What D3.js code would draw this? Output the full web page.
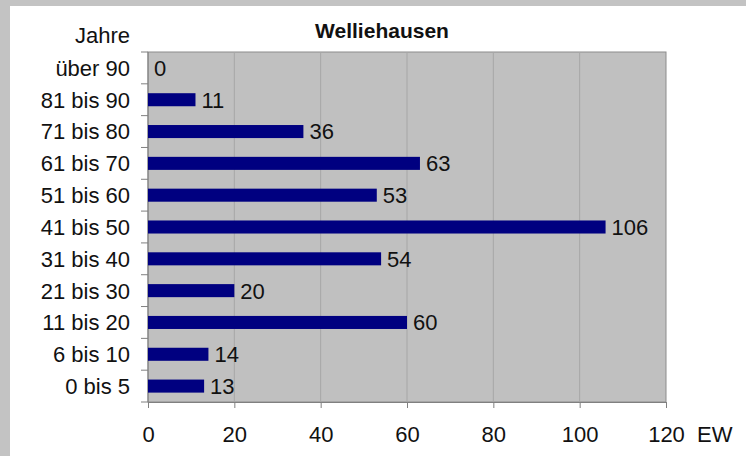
<!DOCTYPE html>
<html>
<head>
<meta charset="utf-8">
<script src="https://cdn.jsdelivr.net/npm/d3@7"></script>
<style>
  body { margin: 0; background: #fff; }
  text { font-family: "Liberation Sans", Arial, sans-serif; fill: #111; }
</style>
</head>
<body>
<script>
// Age groups, top to bottom
var categories = ["über 90", "81 bis 90", "71 bis 80", "61 bis 70", "51 bis 60",
                  "41 bis 50", "31 bis 40", "21 bis 30", "11 bis 20", "6 bis 10", "0 bis 5"];
// Residents (EW) per age group
var values = [0, 11, 36, 63, 53, 106, 54, 20, 60, 14, 13];
var xTicks = [0, 20, 40, 60, 80, 100, 120];

var W = 746, H = 456;
var plot = {left: 148, top: 52, right: 666, bottom: 402};

var svg = d3.select("body").append("svg")
    .attr("width", W)
    .attr("height", H);

// gray frame along top and left edge
svg.append("rect").attr("x", 0).attr("y", 0).attr("width", W).attr("height", 6).attr("fill", "#c3c3c3");
svg.append("rect").attr("x", 0).attr("y", 0).attr("width", 10).attr("height", H).attr("fill", "#c3c3c3");

var x = d3.scaleLinear().domain([0, 120]).range([plot.left, plot.right]);
var y = d3.scaleBand().domain(categories).range([plot.top, plot.bottom]).paddingInner(0.59).paddingOuter(0.295);
var yb = d3.scaleBand().domain(categories).range([plot.top, plot.bottom]);

// plot background
svg.append("rect")
    .attr("x", plot.left).attr("y", plot.top)
    .attr("width", plot.right - plot.left).attr("height", plot.bottom - plot.top)
    .attr("fill", "#c0c0c0")
    .attr("stroke", "#8c8c8c").attr("stroke-width", 1);

// vertical gridlines
svg.selectAll("line.grid")
    .data(xTicks.slice(1, -1))
  .enter().append("line")
    .attr("class", "grid")
    .attr("x1", function(d) { return x(d); }).attr("x2", function(d) { return x(d); })
    .attr("y1", plot.top).attr("y2", plot.bottom)
    .attr("stroke", "#a6a6a6").attr("stroke-width", 1);

// x axis
var xAxis = svg.append("g")
    .attr("transform", "translate(0," + plot.bottom + ")")
    .call(d3.axisBottom(x).tickValues(xTicks).tickSize(6).tickPadding(18));
xAxis.select(".domain").attr("stroke", "#808080");
xAxis.selectAll(".tick line").attr("stroke", "#808080");
xAxis.selectAll("text").attr("font-size", 22).attr("font-family", "Liberation Sans, Arial, sans-serif").attr("fill", "#111");

// y axis: ticks at category boundaries
var bounds = categories.map(function(c) { return yb(c); }).concat([plot.bottom]);
svg.append("line")
    .attr("x1", plot.left).attr("x2", plot.left)
    .attr("y1", plot.top).attr("y2", plot.bottom)
    .attr("stroke", "#808080");
svg.selectAll("line.ytick")
    .data(bounds)
  .enter().append("line")
    .attr("class", "ytick")
    .attr("x1", plot.left - 7).attr("x2", plot.left)
    .attr("y1", function(d) { return d; }).attr("y2", function(d) { return d; })
    .attr("stroke", "#808080");

svg.selectAll("text.cat")
    .data(categories)
  .enter().append("text")
    .attr("class", "cat")
    .attr("x", 130)
    .attr("y", function(d) { return yb(d) + yb.bandwidth() / 2; })
    .attr("dy", "0.36em")
    .attr("text-anchor", "end")
    .attr("font-size", 22)
    .text(function(d) { return d; });

// bars
svg.selectAll("rect.bar")
    .data(values)
  .enter().append("rect")
    .attr("class", "bar")
    .attr("x", x(0))
    .attr("y", function(d, i) { return y(categories[i]); })
    .attr("width", function(d) { return x(d) - x(0); })
    .attr("height", y.bandwidth())
    .attr("fill", "#000080");

// value labels
svg.selectAll("text.val")
    .data(values)
  .enter().append("text")
    .attr("class", "val")
    .attr("x", function(d) { return x(d) + 6; })
    .attr("y", function(d, i) { return yb(categories[i]) + yb.bandwidth() / 2; })
    .attr("dy", "0.36em")
    .attr("font-size", 22)
    .text(function(d) { return d; });

// titles
svg.append("text")
    .attr("x", 382).attr("y", 38)
    .attr("text-anchor", "middle")
    .attr("font-size", 21).attr("font-weight", "bold")
    .text("Welliehausen");
svg.append("text")
    .attr("x", 130).attr("y", 43)
    .attr("text-anchor", "end")
    .attr("font-size", 22)
    .text("Jahre");
svg.append("text")
    .attr("x", 697).attr("y", 442)
    .attr("font-size", 22)
    .text("EW");
</script>
</body>
</html>
